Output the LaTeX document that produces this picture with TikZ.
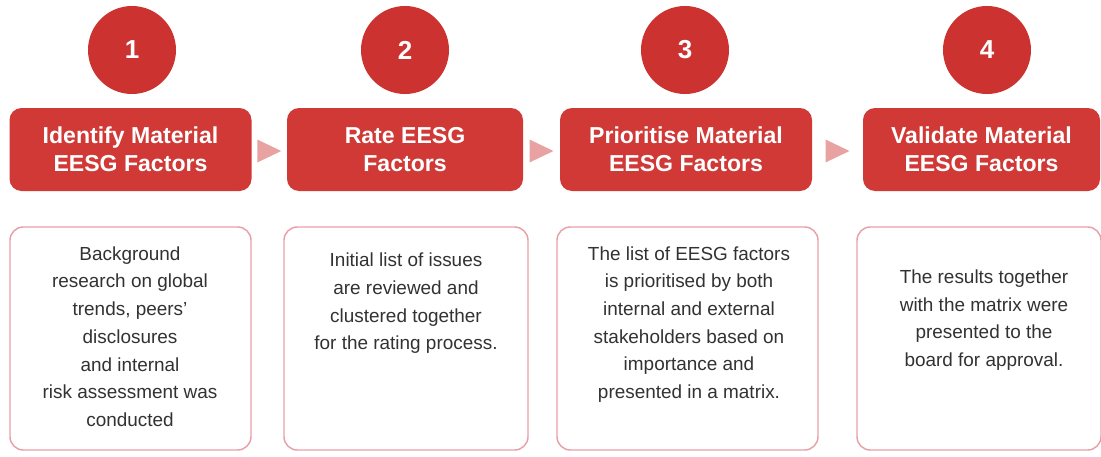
\documentclass[tikz,border=0pt]{standalone}
\usepackage{fontspec}
\setmainfont{Liberation Sans}
\usetikzlibrary{calc}
\definecolor{stepred}{RGB}{208,57,54}
\definecolor{discred}{RGB}{204,50,48}
\definecolor{pointerpink}{RGB}{233,162,162}
\definecolor{framepink}{RGB}{232,160,168}
\definecolor{bodygray}{RGB}{50,50,50}
\begin{document}
\begin{tikzpicture}[x=0.75pt,y=-0.75pt,
  numdisc/.style={circle, fill=discred, text=white, minimum size=66pt, inner sep=0pt,
    font=\fontsize{19.5}{22}\selectfont\bfseries},
  headbox/.style={rounded corners=9pt, fill=stepred, text=white, minimum height=62.25pt,
    inner sep=0pt, align=center, font=\fontsize{17.3}{21}\selectfont\bfseries},
  descbox/.style={draw=framepink, line width=1.1pt, rounded corners=10pt, fill=white,
    minimum height=167.25pt, inner sep=0pt},
  desctext/.style={text=bodygray, align=center, font=\fontsize{14.2}{20.8}\selectfont},
  pointer/.style={fill=pointerpink}]
\useasboundingbox (0,0) rectangle (1101,457);

% numbered discs
\node[numdisc] (n1) at (132,50) {1};
\node[numdisc] (n2) at (405,50) {2};
\node[numdisc] (n3) at (685,50) {3};
\node[numdisc] (n4) at (987,50) {4};

% step titles
\node[headbox, minimum width=181.5pt] (h1) at (130.5,149.5) {Identify Material\\EESG Factors};
\node[headbox, minimum width=177pt]   (h2) at (405,149.5)   {Rate EESG\\Factors};
\node[headbox, minimum width=189pt]   (h3) at (686,149.5)   {Prioritise Material\\EESG Factors};
\node[headbox, minimum width=177.75pt] (h4) at (981.5,149.5) {Validate Material\\EESG Factors};

% pointers between the steps
\foreach \a/\b in {h1/h2,h2/h3,h3/h4}{
  \coordinate (m) at ($(\a.east)!0.5!(\b.west)$);
  \fill[pointer] ($(m)+(-12,-10)$) -- ($(m)+(12,1.5)$) -- ($(m)+(-12,13)$) -- cycle;
}

% description frames
\node[descbox, minimum width=180.75pt] (d1) at (130.5,338.5) {};
\node[descbox, minimum width=183pt]    (d2) at (406,338.5)   {};
\node[descbox, minimum width=195.75pt] (d3) at (687.5,338.5) {};
\node[descbox, minimum width=183pt]    (d4) at (979,338.5)   {};

% description texts
\node[desctext] (t1) at (130,336.5) {Background\\research on global\\trends, peers'\\disclosures\\and internal\\risk assessment was\\conducted};
\node[desctext] (t2) at (406,303.5) {Initial list of issues\\are reviewed and\\clustered together\\for the rating process.};
\node[desctext] (t3) at (689,324.5) {The list of EESG factors\\is prioritised by both\\internal and external\\stakeholders based on\\importance and\\presented in a matrix.};
\node[desctext] (t4) at (984,320) {The results together\\with the matrix were\\presented to the\\board for approval.};
\end{tikzpicture}
\end{document}
